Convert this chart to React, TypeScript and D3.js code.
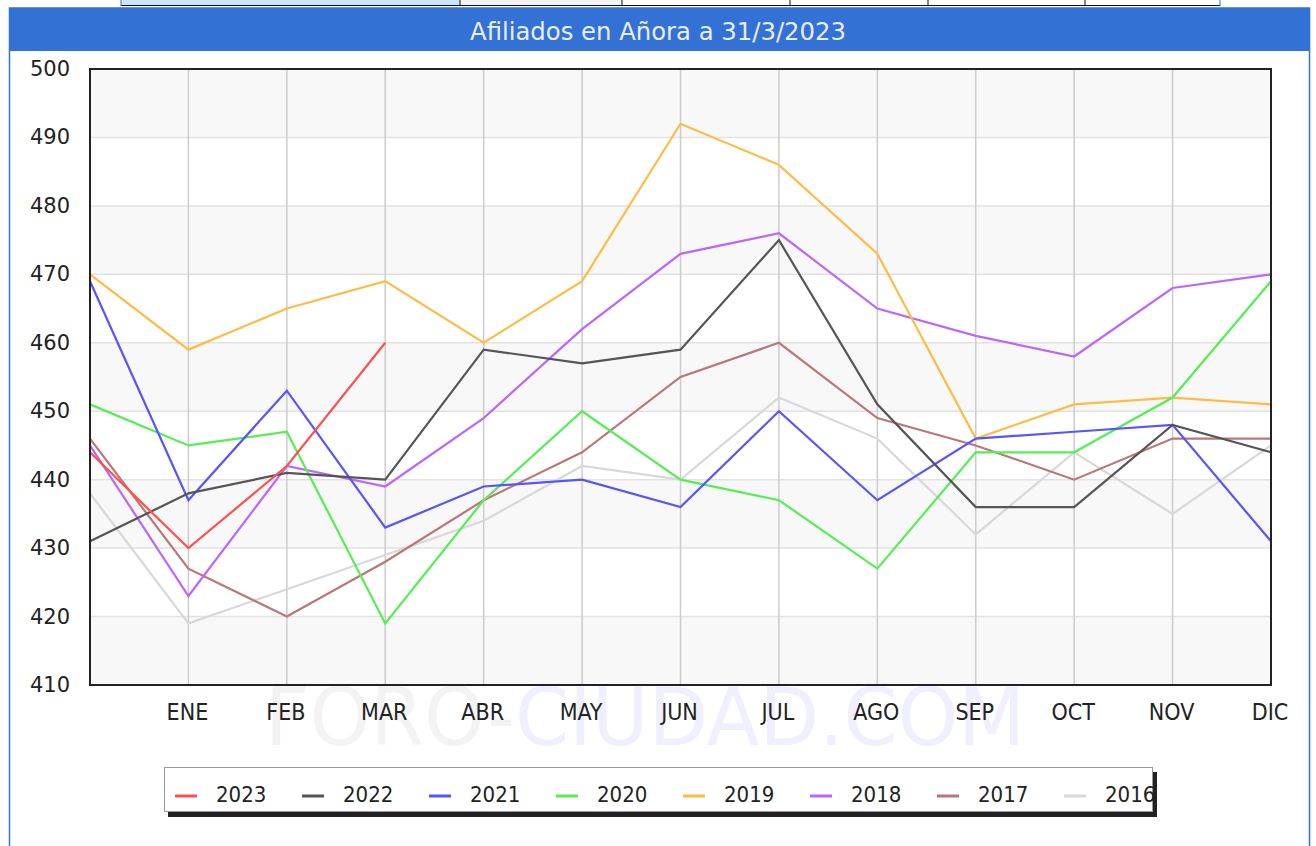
import React, { useRef, useEffect } from 'react';
import * as d3 from 'd3';

// month labels, index 0 is the previous December (no label)
const months = ['', 'ENE', 'FEB', 'MAR', 'ABR', 'MAY', 'JUN', 'JUL', 'AGO', 'SEP', 'OCT', 'NOV', 'DIC'];
const yTicks = [410, 420, 430, 440, 450, 460, 470, 480, 490, 500];

const years = ['2023', '2022', '2021', '2020', '2019', '2018', '2017', '2016'];
const colors = ['#ff5050', '#555555', '#5555ff', '#55ee55', '#ffbb44', '#bb66ff', '#bb7777', '#d8d8d8'];

const s2023 = [444, 430, 442, 460];
const s2022 = [431, 438, 441, 440, 459, 457, 459, 475, 451, 436, 436, 448, 444];
const s2021 = [469, 437, 453, 433, 439, 440, 436, 450, 437, 446, 447, 448, 431];
const s2020 = [451, 445, 447, 419, 437, 450, 440, 437, 427, 444, 444, 452, 469];
const s2019 = [470, 459, 465, 469, 460, 469, 492, 486, 473, 446, 451, 452, 451];
const s2018 = [445, 423, 442, 439, 449, 462, 473, 476, 465, 461, 458, 468, 470];
const s2017 = [446, 427, 420, 428, 437, 444, 455, 460, 449, 445, 440, 446, 446];
const s2016 = [438, 419, 424, 429, 434, 442, 440, 452, 446, 432, 444, 435, 445];

const series = [s2023, s2022, s2021, s2020, s2019, s2018, s2017, s2016];

const condensed = '"DejaVu Sans Condensed", "DejaVu Sans", sans-serif';
const normal = '"DejaVu Sans", sans-serif';

const App = () => {
  const ref = useRef<SVGSVGElement>(null);

  useEffect(() => {
    const width = 1316;
    const height = 846;
    const left = 90, right = 1271, top = 69, bottom = 685;

    const svg = d3.select(ref.current);
    svg.selectAll('*').remove();
    svg.attr('width', width).attr('height', height);

    // page background
    svg.append('rect').attr('width', width).attr('height', height).attr('fill', '#fff');

    // strip of table above the chart
    const cells = [121, 460, 622, 790, 928, 1085, 1220];
    svg.append('rect').attr('x', 121).attr('y', 0).attr('width', 339).attr('height', 5).attr('fill', '#cce4f8');
    svg.append('rect').attr('x', 460).attr('y', 0).attr('width', 162).attr('height', 5).attr('fill', '#f3f3f3');
    svg.append('line').attr('x1', 121).attr('x2', 1220).attr('y1', 5.5).attr('y2', 5.5).attr('stroke', '#111');
    cells.forEach(c => {
      svg.append('line').attr('x1', c).attr('x2', c).attr('y1', 0).attr('y2', 6)
        .attr('stroke', c === 121 || c === 1220 ? '#3371d5' : '#111');
    });

    // blue frame and title bar
    svg.append('rect').attr('x', 9.5).attr('y', 8).attr('width', 1300).attr('height', 850)
      .attr('fill', 'none').attr('stroke', '#3371d5').attr('stroke-width', 1.5);
    svg.append('rect').attr('x', 9).attr('y', 8).attr('width', 1301).attr('height', 43).attr('fill', '#3371d5');
    svg.append('text').attr('x', 658).attr('y', 40).attr('text-anchor', 'middle')
      .attr('textLength', 376).attr('lengthAdjust', 'spacingAndGlyphs')
      .style('font-family', condensed).style('font-size', '24px').attr('fill', '#e8eefa')
      .text('Afiliados en Añora a 31/3/2023');

    const x = d3.scaleLinear().domain([0, months.length - 1]).range([left, right]);
    const y = d3.scaleLinear().domain([410, 500]).range([bottom, top]);

    // watermark
    const wm = svg.append('text').attr('x', 645).attr('y', 745).attr('text-anchor', 'middle')
      .attr('textLength', 760).attr('lengthAdjust', 'spacingAndGlyphs')
      .style('font-family', condensed).style('font-size', '80px');
    wm.append('tspan').attr('fill', '#f3f3f3').text('FORO-');
    wm.append('tspan').attr('fill', '#efefff').text('CIUDAD.COM');

    // alternating bands
    const bands = yTicks.slice(0, -1).filter((_, i) => i % 2 === 0);
    svg.append('g').selectAll('rect').data(bands).enter().append('rect')
      .attr('x', left).attr('width', right - left)
      .attr('y', d => y(d + 10)).attr('height', d => y(d) - y(d + 10))
      .attr('fill', '#f8f8f8');

    // grid
    svg.append('g').selectAll('line').data(yTicks).enter().append('line')
      .attr('x1', left).attr('x2', right).attr('y1', d => y(d)).attr('y2', d => y(d))
      .attr('stroke', '#e2e2e2').attr('stroke-width', 1.5);
    svg.append('g').selectAll('line').data(d3.range(1, months.length)).enter().append('line')
      .attr('x1', d => x(d)).attr('x2', d => x(d)).attr('y1', top).attr('y2', bottom)
      .attr('stroke', '#cccccc').attr('stroke-width', 1.5);

    // series lines (oldest first so newer sit on top)
    const line = d3.line<number>().x((_, i) => x(i)).y(d => y(d));
    series.slice().reverse().forEach((s, k) => {
      const idx = series.length - 1 - k;
      svg.append('path').attr('d', line(s)).attr('fill', 'none')
        .attr('stroke', colors[idx]).attr('stroke-width', 2.2).attr('stroke-linejoin', 'miter');
    });

    // plot border
    svg.append('rect').attr('x', left).attr('y', top).attr('width', right - left).attr('height', bottom - top)
      .attr('fill', 'none').attr('stroke', '#222').attr('stroke-width', 2);

    // y tick labels
    svg.append('g').selectAll('text').data(yTicks).enter().append('text')
      .attr('x', 70).attr('y', d => y(d) + 7).attr('text-anchor', 'end')
      .style('font-family', normal).style('font-size', '21px').attr('fill', '#222')
      .text(d => d);

    // x tick labels
    svg.append('g').selectAll('text').data(months).enter().append('text')
      .attr('x', (_, i) => x(i) - 1).attr('y', 720).attr('text-anchor', 'middle')
      .style('font-family', condensed).style('font-size', '23px').attr('fill', '#222')
      .text(d => d);

    // legend
    const lg = svg.append('g');
    lg.append('rect').attr('x', 168).attr('y', 772).attr('width', 989).attr('height', 45).attr('fill', '#222');
    lg.append('rect').attr('x', 164.5).attr('y', 767.5).attr('width', 988).attr('height', 44)
      .attr('fill', '#fff').attr('stroke', '#999').attr('stroke-width', 1);
    const items = lg.selectAll('g.item').data(years).enter().append('g')
      .attr('transform', (_, i) => `translate(${175 + i * 127},0)`);
    items.append('rect').attr('x', 0).attr('y', 794.5).attr('width', 22).attr('height', 3)
      .attr('fill', (_, i) => colors[i]);
    items.append('text').attr('x', 41).attr('y', 802)
      .style('font-family', condensed).style('font-size', '22px').attr('fill', '#222')
      .text(d => d);
  }, []);

  return (
    <div style={{ position: 'absolute', left: 0, top: 0 }}>
      <svg ref={ref}></svg>
    </div>
  );
};

export default App;
